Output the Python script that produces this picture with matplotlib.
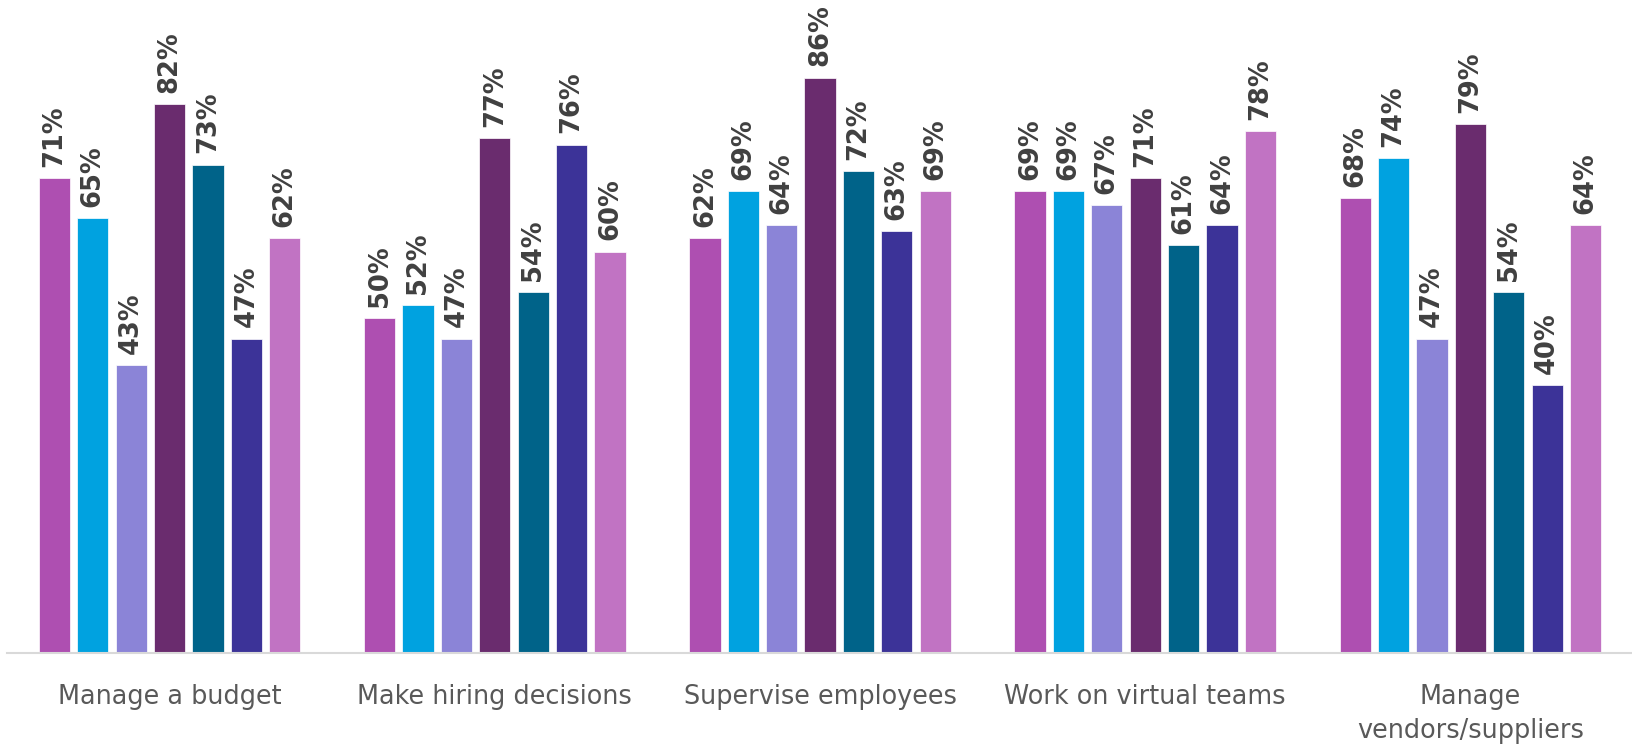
import numpy as np
import matplotlib.pyplot as plt

categories = ['Manage a budget', 'Make hiring decisions', 'Supervise employees',
              'Work on virtual teams', 'Manage\nvendors/suppliers']

# one list per series (7 bars per group)
s1 = [71, 50, 62, 69, 68]
s2 = [65, 52, 69, 69, 74]
s3 = [43, 47, 64, 67, 47]
s4 = [82, 77, 86, 71, 79]
s5 = [73, 54, 72, 61, 54]
s6 = [47, 76, 63, 64, 40]
s7 = [62, 60, 69, 78, 64]
series = [s1, s2, s3, s4, s5, s6, s7]

colors = ['#AE4FB1', '#00A2E0', '#8B84D7', '#6A2C6E', '#006389', '#3C3398', '#C173C3']

fig = plt.figure(figsize=(16.33, 7.45), dpi=100)
ax = fig.add_axes([0.0043, 0.1235, 0.9957, 0.8765])

x = np.arange(len(categories))
pitch = 0.118
width = 0.096
for i, vals in enumerate(series):
    xs = x + (i - 3) * pitch
    bars = ax.bar(xs, vals, width=width, color=colors[i], edgecolor='white', linewidth=0.5)
    for b, v in zip(bars, vals):
        ax.annotate(f'{v}%', (b.get_x() + b.get_width() / 2, v),
                    xytext=(0, 8), textcoords='offset points',
                    rotation=90, ha='center', va='bottom',
                    fontsize=18.5, fontweight='bold', color='#404040')

ax.set_xlim(-0.5, 4.5)
ax.set_ylim(0, 97.6)
ax.set_xticks(x)
ax.set_xticklabels(categories, fontsize=18.4, color='#595959', linespacing=1.4)
ax.tick_params(axis='x', length=0, pad=22)
ax.set_yticks([])
for s in ['top', 'left', 'right']:
    ax.spines[s].set_visible(False)
ax.spines['bottom'].set_color('#d9d9d9')
ax.spines['bottom'].set_linewidth(1.5)

fig.savefig('out.png', dpi=100)
